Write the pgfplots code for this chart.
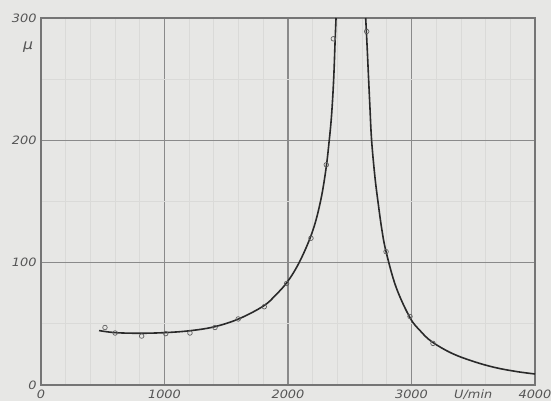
\documentclass[border=0pt]{standalone}
\usepackage{fontspec}
\setmainfont{DejaVu Sans}[FakeStretch=1.12]
\usepackage{pgfplots}
\pgfplotsset{compat=1.18}
\definecolor{paper}{HTML}{E7E7E5}
\definecolor{gridc}{HTML}{8A8A8A}
\definecolor{inkc}{HTML}{2A2A2A}
\definecolor{labc}{HTML}{555555}

\begin{document}
\begin{tikzpicture}
\path[use as bounding box, fill=paper] (-41pt,-16pt) rectangle (510pt,385pt);
\begin{axis}[
  at={(0pt,0pt)}, anchor=south west,
  width=494pt, height=367pt, scale only axis,
  xmin=0, xmax=4000, ymin=0, ymax=300,
  xtick={0,1000,2000,3000,4000},
  ytick={0,100,200,300},
  minor x tick num=4, minor y tick num=1,
  major tick length=0pt, minor tick length=0pt,
  grid=both,
  major grid style={gridc, line width=1.3pt},
  minor grid style={gridc!14!paper, line width=0.8pt},
  axis line style={gridc!85!black, line width=1.4pt},
  tick label style={font=\itshape\fontsize{11.5}{12}\selectfont, text=labc},
  xticklabel style={yshift=-1pt},
  yticklabel style={xshift=-1pt},
  /pgf/number format/assume math mode=true,
  /pgf/number format/1000 sep={},
  clip=false,
]
% curve, left branch
\addplot[inkc, line width=1.6pt, smooth, tension=0.6] coordinates {
  (470,44.5)(600,42.8)(800,42.3)(1000,42.8)(1200,44.3)(1400,47.5)
  (1600,54)(1800,64.5)(1900,73.5)(2000,85)(2100,102)(2200,126)
  (2265,151)(2308,177)(2334,200)(2350,217)(2362,235)(2372,255)
  (2381,280)(2389,300)
};
% curve, right branch
\addplot[inkc, line width=1.6pt, smooth, tension=0.6] coordinates {
  (2629,300)(2640,278)(2650,256)(2663,228)(2677,200)(2704,170)
  (2731,148)(2760,127)(2794,109)(2875,80)(2988,55)(3069,44.5)
  (3163,35.5)(3325,26)(3500,19.3)(3676,14.3)(3850,11)(4000,9)
};
% measured points
\addplot[only marks, mark=o, mark size=2.3pt, gridc!70!black,
  mark options={fill=paper, line width=0.7pt}] coordinates {
  (518,47)(600,42.5)(815,40)(1010,42)(1206,42.5)(1409,47)(1597,54)
  (1808,64)(1989,83)(2186,120)(2310,180)(2367,283)(2637,289)
  (2794,109)(2988,56)(3174,34)
};
\node[font=\itshape\fontsize{14}{14}\selectfont, text=labc]
  at (axis cs:-105,276) {μ};
\node[font=\itshape\fontsize{11.5}{12}\selectfont, text=labc, anchor=north]
  at (axis cs:3500,0) [yshift=-1pt] {U/min};
\end{axis}
\end{tikzpicture}
\end{document}
